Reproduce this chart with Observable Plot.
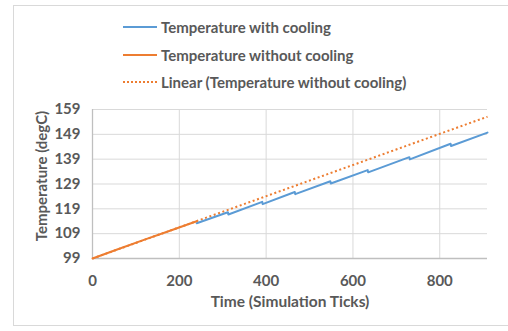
<!DOCTYPE html>
<html>
<head>
<meta charset="utf-8">
<script src="https://cdn.jsdelivr.net/npm/d3@7"></script>
<script src="https://cdn.jsdelivr.net/npm/@observablehq/plot@0.6"></script>
<style>
  html, body { margin: 0; padding: 0; background: #fff; }
  body { width: 508px; height: 331px; position: relative; overflow: hidden; font-family: Lato, "Open Sans", sans-serif; }
  #frame { position: absolute; left: 13px; top: 5px; width: 520px; height: 321px; border: 1px solid #d9d9d9; box-sizing: border-box; }
  #legend { position: absolute; left: 0; top: 0; width: 508px; height: 95px; }
  .row { position: absolute; left: 123px; height: 20px; display: flex; align-items: center; color: #595959; font-weight: bold; font-size: 15px; white-space: nowrap; }
  .sw { width: 34px; height: 0; margin-right: 4px; }
  #chart { position: absolute; left: 0; top: 0; }
</style>
</head>
<body>
<div id="frame"></div>
<div id="chart"></div>
<div id="legend"></div>
<script>
// Series: temperature without cooling (orange)
const noCoolX = [0, 60, 120, 180, 240];
const noCoolY = [99, 102.8, 106.6, 110.3, 114.0];

// Series: temperature with cooling (blue), sawtooth with small drops
const coolX = [240, 312, 313, 391, 392, 466, 467, 548, 549, 634, 635, 730, 731, 825, 826, 910];
const coolY = [113.2, 117.6, 116.7, 121.8, 120.9, 125.8, 124.9, 130.1, 129.2, 134.6, 133.7, 139.8, 138.9, 145.2, 144.3, 149.7];

// Linear trendline of the without-cooling series (forecast forward)
const trendX = [0, 910];
const trendY = [99, 156.1];

// Axes
const xTicks = [0, 200, 400, 600, 800];
const yTicks = [99, 109, 119, 129, 139, 149, 159];
const xDomain = [0, 910];
const yDomain = [99, 159];

const seriesNames = ["Temperature with cooling", "Temperature without cooling", "Linear (Temperature without cooling)"];
const seriesColors = ["#5b9bd5", "#ed7d31", "#ed7d31"];

const noCool = noCoolX.map((x, i) => ({x, y: noCoolY[i]}));
const cool = coolX.map((x, i) => ({x, y: coolY[i]}));
const trend = trendX.map((x, i) => ({x, y: trendY[i]}));

const font = "Lato, 'Open Sans', sans-serif";

const plot = Plot.plot({
  width: 508,
  height: 331,
  marginTop: 109,
  marginBottom: 73,
  marginLeft: 92,
  marginRight: 21,
  style: { fontFamily: font, fontSize: "15px", fontWeight: "bold", color: "#595959", background: "transparent", overflow: "visible" },
  x: { domain: xDomain, ticks: xTicks, label: null },
  y: { domain: yDomain, ticks: yTicks, label: null },
  marks: [
    Plot.gridY(yTicks, { stroke: "#d9d9d9", strokeOpacity: 1, strokeWidth: 1 }),
    Plot.gridX(xTicks, { stroke: "#d9d9d9", strokeOpacity: 1, strokeWidth: 1 }),
    Plot.ruleY([yDomain[0]], { stroke: "#bfbfbf", strokeWidth: 1.3 }),
    Plot.ruleX([xDomain[0]], { stroke: "#bfbfbf", strokeWidth: 1.3 }),
    Plot.axisY(yTicks, { tickSize: 0, tickPadding: 12, fill: "#595959", fontSize: 15, fontWeight: "bold", label: null }),
    Plot.axisX(xTicks, { tickSize: 0, tickPadding: 17, fill: "#595959", fontSize: 15, fontWeight: "bold", label: null }),
    Plot.line(trend, { x: "x", y: "y", stroke: seriesColors[2], strokeWidth: 2, strokeDasharray: "2,2.6", strokeLinecap: "butt" }),
    Plot.line(cool, { x: "x", y: "y", stroke: seriesColors[0], strokeWidth: 2 }),
    Plot.line(noCool, { x: "x", y: "y", stroke: seriesColors[1], strokeWidth: 2 }),
    Plot.text(["Time (Simulation Ticks)"], { frameAnchor: "bottom", dy: 44, fill: "#595959", fontSize: 15.5, fontWeight: "bold", lineAnchor: "middle" }),
    Plot.text(["Temperature (degC)"], { frameAnchor: "left", textAnchor: "middle", dx: -50, dy: -8, rotate: -90, fill: "#595959", fontSize: 15, fontWeight: "bold" })
  ]
});
document.getElementById("chart").appendChild(plot);

// Legend
const legend = document.getElementById("legend");
const rowY = [17, 45, 72];
seriesNames.forEach((name, i) => {
  const row = document.createElement("div");
  row.className = "row";
  row.style.top = rowY[i] + "px";
  const sw = document.createElement("span");
  sw.className = "sw";
  sw.style.borderTop = i === 2 ? `2px dotted ${seriesColors[i]}` : `2px solid ${seriesColors[i]}`;
  row.appendChild(sw);
  const t = document.createElement("span");
  t.textContent = name;
  row.appendChild(t);
  legend.appendChild(row);
});
</script>
</body>
</html>
